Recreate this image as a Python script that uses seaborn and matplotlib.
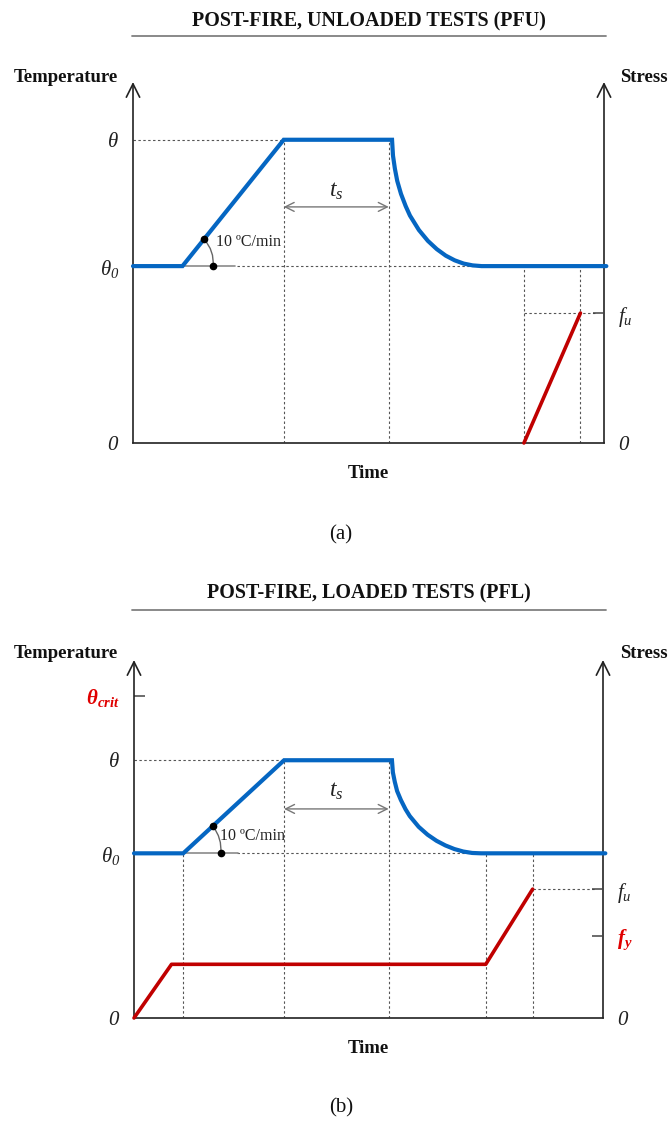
import matplotlib
matplotlib.use("Agg")
import matplotlib.pyplot as plt
import seaborn as sns
from matplotlib.lines import Line2D

# ---------------------------------------------------------------------------
# Schematic values (time axis 0-100, temperature / stress axes 0-100)
# ---------------------------------------------------------------------------
# (a) post-fire, unloaded tests
a_theta0, a_theta, a_fu = 49, 84, 36
a_heat_time = [0, 10.5, 32, 55]
a_heat_temp = [49, 49, 84, 84]
a_cool_time = [55.2, 55.6, 56.1, 56.9, 57.9, 58.8, 60.7, 62.6, 64.5, 66.4,
               68.3, 70.2, 72.1, 74, 100.5]
a_cool_temp = [79.6, 76.0, 72.6, 69.0, 65.6, 63.0, 59.0, 56.0, 53.7, 51.9,
               50.6, 49.7, 49.2, 49, 49]
a_stress_time = [83, 95]
a_stress_vals = [0, 36]
a_guides_from_theta = [32, 54.3]
a_guides_from_theta0 = [83, 95]

# (b) post-fire, loaded tests
b_theta0, b_theta, b_theta_crit, b_fu, b_fy = 46, 72, 90, 36, 23
b_heat_time = [0, 10.5, 32, 55]
b_heat_temp = [46, 46, 72, 72]
b_cool_time = [55.2, 55.6, 56.1, 56.9, 57.9, 58.8, 60.7, 62.6, 64.5, 66.4,
               68.3, 70.2, 72.1, 74, 100.5]
b_cool_temp = [68.6, 66.0, 63.4, 60.9, 58.3, 56.4, 53.4, 51.2, 49.5, 48.2,
               47.2, 46.5, 46.1, 46, 46]
b_stress_time = [0, 8, 75, 85]
b_stress_vals = [0, 15, 15, 36]
b_guides_from_theta = [32, 54.3]
b_guides_from_theta0 = [10.5, 75, 85]

rate_label = "10 ºC/min"

# ---------------------------------------------------------------------------
sns.set_theme(style="white")
plt.rcParams["font.family"] = ["Liberation Serif", "DejaVu Serif"]
plt.rcParams["mathtext.fontset"] = "custom"
# every symbol on this figure is set in italic, digits included
plt.rcParams["mathtext.rm"] = "Liberation Serif:italic"
plt.rcParams["mathtext.it"] = "Liberation Serif:italic"
plt.rcParams["mathtext.bf"] = "Liberation Serif:italic:bold"
plt.rcParams["mathtext.bfit"] = "Liberation Serif:italic:bold"

BLUE = "#0566C2"
RED = "#C00000"
INK = "#222222"
GUIDE = "#555555"
DASH = (0, (2.2, 2.2))

W, H = 671, 1121
fig = plt.figure(figsize=(W / 100, H / 100), dpi=100)
fig.patch.set_facecolor("white")


def box(left, right, bottom, top):
    return [left / W, 1 - bottom / H, (right - left) / W, (bottom - top) / H]


def fx(px):
    return px / W


def fy(py):
    return 1 - py / H


def header(text, y_text, y_rule):
    fig.text(fx(369), fy(y_text), text, ha="center", va="center",
             fontsize=14.4, fontweight="bold", color="#111111")
    fig.add_artist(Line2D([fx(132), fx(606)], [fy(y_rule), fy(y_rule)],
                          color="#808080", lw=1.3))


def frame_axes(ax):
    ax.set_xlim(0, 100)
    ax.set_ylim(0, 100)
    ax.set_facecolor("none")
    for side in ("top", "left", "right"):
        ax.spines[side].set_visible(False)
    ax.spines["bottom"].set_color("#333333")
    ax.spines["bottom"].set_linewidth(1.3)
    ax.set_xticks([])
    ax.grid(False)
    for xpos in (0, 1):
        ax.annotate("", xy=(xpos, 1), xytext=(xpos, 0), xycoords="axes fraction",
                    arrowprops=dict(arrowstyle="->", color="#222222", lw=1.2,
                                    mutation_scale=24, shrinkA=0, shrinkB=0),
                    annotation_clip=False)
    ax.set_xlabel("Time", fontsize=13.5, fontweight="bold", color="#111111",
                  labelpad=16)


def guides(ax, theta, theta0, from_theta, from_theta0, heat_time):
    ax.hlines(theta, 0, heat_time[2], colors=GUIDE, lw=0.8, linestyles=DASH)
    ax.hlines(theta0, 22, 80, colors=GUIDE, lw=0.8, linestyles=DASH)
    ax.vlines(from_theta, 0, theta, colors=GUIDE, lw=0.8, linestyles=DASH)
    ax.vlines(from_theta0, 0, theta0, colors=GUIDE, lw=0.8, linestyles=DASH)


def rate_marker(ax, start, on_ramp, on_base, text_xy, base_end, rad):
    ax.plot([start[0], base_end], [start[1], start[1]], color="#8a8a8a", lw=1.2,
            zorder=3)
    ax.annotate("", xy=on_base, xytext=on_ramp,
                arrowprops=dict(arrowstyle="-", color="#666666", lw=1.0,
                                connectionstyle=f"arc3,rad={rad}",
                                shrinkA=0, shrinkB=0))
    ax.plot([on_ramp[0], on_base[0]], [on_ramp[1], on_base[1]], ls="none",
            marker="o", ms=4.5, color="black", zorder=6)
    ax.text(text_xy[0], text_xy[1], rate_label, fontsize=11.5, color="#222222",
            ha="left", va="center", zorder=6)


def hold_arrow(ax, t0, t1, y_arrow, y_text):
    ax.annotate("", xy=(t1, y_arrow), xytext=(t0, y_arrow),
                arrowprops=dict(arrowstyle="<->", color="#777777", lw=1.0,
                                mutation_scale=16, shrinkA=0, shrinkB=0))
    ax.text((t0 + t1) / 2, y_text, r"$t_s$", fontsize=17, color=INK,
            ha="center", va="center")


def curves(ax, heat_t, heat_v, cool_t, cool_v, s_t, s_v):
    sns.lineplot(x=heat_t + cool_t, y=heat_v + cool_v, ax=ax, color=BLUE,
                 lw=3.0, sort=False, estimator=None, clip_on=False, zorder=5,
                 solid_joinstyle="miter")
    sns.lineplot(x=s_t, y=s_v, ax=ax, color=RED, lw=2.6, sort=False,
                 estimator=None, clip_on=False, zorder=5)


def style_scale(axis_ax, side, vals, labels, colors, marks):
    yax = axis_ax.yaxis
    yax.remove_overlapping_locs = False
    axis_ax.set_yticks(vals, labels=labels)
    axis_ax.set_yticks(marks, minor=True)
    on_left = side == "left"
    axis_ax.tick_params(axis="y", which="both", left=on_left,
                        right=not on_left, labelleft=on_left,
                        labelright=not on_left)
    axis_ax.tick_params(axis="y", which="major", length=0, pad=10,
                        labelsize=15)
    axis_ax.tick_params(axis="y", which="minor", length=8, width=1.1,
                        direction="in", color="#444444")
    for lab, col in zip(axis_ax.get_yticklabels(), colors):
        lab.set_color(col)


def axis_labels(ax, left_vals, left_labels, left_colors, left_marks,
                right_vals, right_labels, right_colors, right_marks):
    style_scale(ax, "left", left_vals, left_labels, left_colors, left_marks)
    axr = ax.twinx()
    axr.set_ylim(0, 100)
    for side in axr.spines:
        axr.spines[side].set_visible(False)
    axr.grid(False)
    style_scale(axr, "right", right_vals, right_labels, right_colors,
                right_marks)
    return axr


# ----------------------------- panel (a) -----------------------------------
header("POST-FIRE, UNLOADED TESTS (PFU)", 21, 36)
ax_a = fig.add_axes(box(133, 604, 443, 82))
frame_axes(ax_a)
guides(ax_a, a_theta, a_theta0, a_guides_from_theta, a_guides_from_theta0,
       a_heat_time)
ax_a.hlines(a_fu, a_stress_time[0], 98.3, colors=GUIDE, lw=0.8, linestyles=DASH)
curves(ax_a, a_heat_time, a_heat_temp, a_cool_time, a_cool_temp,
       a_stress_time, a_stress_vals)
rate_marker(ax_a, (a_heat_time[1], a_theta0), (15.1, 56.4), (17.0, a_theta0),
            (17.6, 55.7), 21.7, -0.22)
hold_arrow(ax_a, a_heat_time[2], a_guides_from_theta[1], 65.4, 69.8)
axis_labels(ax_a, [0, a_theta0, a_theta],
            [r"$0$", r"$\theta_{0}$", r"$\theta$"],
            [INK, INK, INK], [],
            [0, a_fu], [r"$0$", r"$f_u$"], [INK, INK], [a_fu])
fig.text(fx(118), fy(78), "Temperature", ha="right", va="center",
         fontsize=13.5, fontweight="bold", color="#111111")
fig.text(fx(620), fy(78), "Stress", ha="left", va="center",
         fontsize=13.5, fontweight="bold", color="#111111")
fig.text(fx(341), fy(535), "(a)", ha="center", va="center", fontsize=15,
         color="#111111")

# ----------------------------- panel (b) -----------------------------------
header("POST-FIRE, LOADED TESTS (PFL)", 593, 610)
ax_b = fig.add_axes(box(134, 603, 1018, 660))
frame_axes(ax_b)
guides(ax_b, b_theta, b_theta0, b_guides_from_theta, b_guides_from_theta0,
       b_heat_time)
ax_b.hlines(b_fu, b_stress_time[-1], 98.3, colors=GUIDE, lw=0.8,
            linestyles=DASH)
curves(ax_b, b_heat_time, b_heat_temp, b_cool_time, b_cool_temp,
       b_stress_time, b_stress_vals)
rate_marker(ax_b, (b_heat_time[1], b_theta0), (16.8, 53.6), (18.5, b_theta0),
            (18.4, 50.8), 22.2, -0.2)
hold_arrow(ax_b, b_heat_time[2], b_guides_from_theta[1], 58.4, 63.2)
axis_labels(ax_b, [0, b_theta0, b_theta, b_theta_crit],
            [r"$0$", r"$\theta_{0}$", r"$\theta$",
             r"$\mathbfit{\theta}_{\mathbfit{crit}}$"],
            [INK, INK, INK, "#E00000"], [b_theta_crit],
            [0, b_fy, b_fu],
            [r"$0$", r"$\mathbfit{f}_{\mathbfit{y}}$", r"$f_u$"],
            [INK, "#E00000", INK], [b_fy, b_fu])
fig.text(fx(118), fy(653), "Temperature", ha="right", va="center",
         fontsize=13.5, fontweight="bold", color="#111111")
fig.text(fx(620), fy(653), "Stress", ha="left", va="center",
         fontsize=13.5, fontweight="bold", color="#111111")
fig.text(fx(341), fy(1108), "(b)", ha="center", va="center", fontsize=15,
         color="#111111")

fig.savefig("out.png", dpi=100, facecolor="white")
